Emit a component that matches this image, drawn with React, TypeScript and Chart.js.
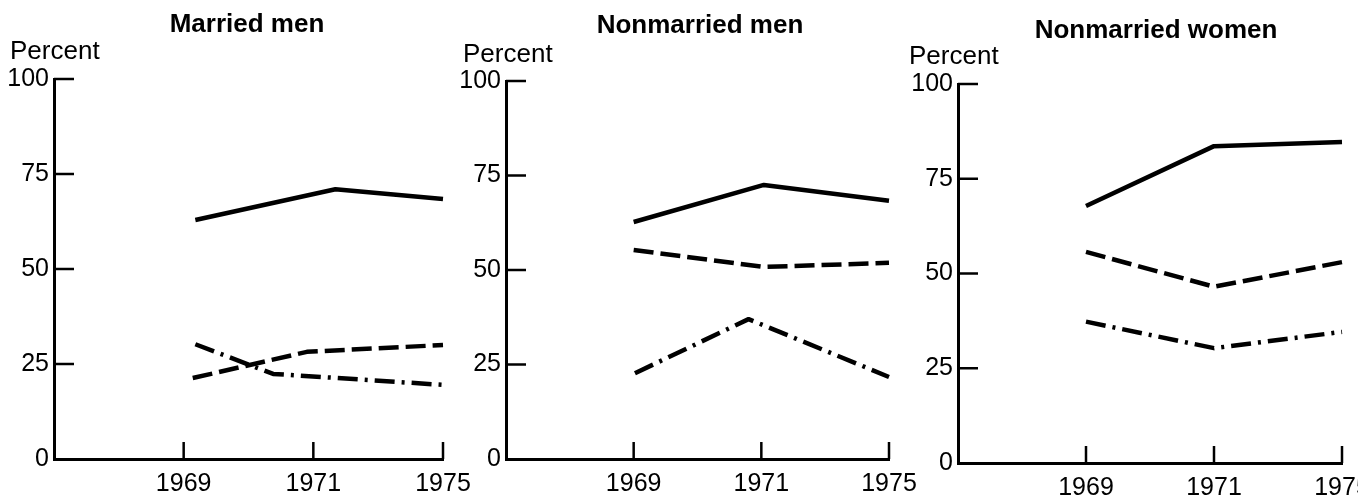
import React, { useEffect, useRef } from 'react';
import { Chart, registerables } from 'chart.js';

Chart.register(...registerables);

// ---------- data ----------
const panelTitles = ['Married men', 'Nonmarried men', 'Nonmarried women'];
const yAxisLabel = 'Percent';
const yTickValues = [0, 25, 50, 75, 100];
const yearLabels = ['1969', '1971', '1975'];
const yearPositions = [1, 2, 3];

// Married men
const marriedSolidX = [1.09, 2.17, 3];
const marriedSolidY = [62.9, 71, 68.4];
const marriedDashX = [1.07, 1.95, 3];
const marriedDashY = [21.3, 28.2, 30];
const marriedDotX = [1.09, 1.69, 3];
const marriedDotY = [30.2, 22.4, 19.5];

// Nonmarried men
const nmMenSolidX = [1, 2.02, 3];
const nmMenSolidY = [62.7, 72.5, 68.3];
const nmMenDashX = [1, 2.02, 3];
const nmMenDashY = [55.3, 50.8, 51.9];
const nmMenDotX = [1.01, 1.9, 3];
const nmMenDotY = [22.7, 37, 21.7];

// Nonmarried women
const nmWomenSolidX = [1, 2, 3];
const nmWomenSolidY = [67.8, 83.6, 84.7];
const nmWomenDashX = [1, 2, 3];
const nmWomenDashY = [55.7, 46.5, 53];
const nmWomenDotX = [1, 2, 3];
const nmWomenDotY = [37.3, 30.3, 34.6];

// ---------- layout / style ----------
const FONT = '"Liberation Sans", Arial, Helvetica, sans-serif';
const INK = '#000';
const EXTRA = 40; // extra canvas room on the right so end labels are not clipped

type PanelLayout = {
  left: number;
  width: number;
  areaLeft: number;
  areaRight: number;
  areaTop: number;
  areaBottom: number;
  titleX: number;
  titleY: number;
  labelX: number;
  labelY: number;
};

const layouts: PanelLayout[] = [
  { left: 0, width: 453, areaLeft: 54, areaRight: 443, areaTop: 79, areaBottom: 459, titleX: 247, titleY: 25, labelX: 10, labelY: 52 },
  { left: 453, width: 452, areaLeft: 53, areaRight: 436, areaTop: 81, areaBottom: 459, titleX: 247, titleY: 26, labelX: 10, labelY: 55 },
  { left: 905, width: 453, areaLeft: 53, areaRight: 437, areaTop: 84, areaBottom: 463, titleX: 251, titleY: 31, labelX: 4, labelY: 57 },
];

const zip = (xs: number[], ys: number[]) => xs.map((x, i) => ({ x, y: ys[i] }));

const panelSeries = [
  [zip(marriedSolidX, marriedSolidY), zip(marriedDashX, marriedDashY), zip(marriedDotX, marriedDotY)],
  [zip(nmMenSolidX, nmMenSolidY), zip(nmMenDashX, nmMenDashY), zip(nmMenDotX, nmMenDotY)],
  [zip(nmWomenSolidX, nmWomenSolidY), zip(nmWomenDashX, nmWomenDashY), zip(nmWomenDotX, nmWomenDotY)],
];

const dashPatterns: number[][] = [[], [20, 7], [20, 7, 3, 7]];

const H = 497;

function Panel({ index }: { index: number }) {
  const ref = useRef<HTMLCanvasElement | null>(null);
  const L = layouts[index];
  const W = L.width + EXTRA;

  useEffect(() => {
    if (!ref.current) return;

    const decor = {
      id: 'decor' + index,
      afterDraw(chart: any) {
        const ctx = chart.ctx;
        const xs = chart.scales.x;
        const ys = chart.scales.y;
        const area = chart.chartArea;
        ctx.save();
        ctx.strokeStyle = INK;
        ctx.lineWidth = 2.5;
        // inward y tick marks
        yTickValues.forEach((v) => {
          if (v === 0) return;
          const py = ys.getPixelForValue(v);
          ctx.beginPath();
          ctx.moveTo(area.left, py);
          ctx.lineTo(area.left + 20, py);
          ctx.stroke();
        });
        // inward x tick marks
        yearPositions.forEach((p) => {
          const px = xs.getPixelForValue(p);
          ctx.beginPath();
          ctx.moveTo(px, area.bottom);
          ctx.lineTo(px, area.bottom - 17);
          ctx.stroke();
        });
        // title
        ctx.fillStyle = INK;
        ctx.textBaseline = 'middle';
        ctx.textAlign = 'center';
        ctx.font = `bold 26px ${FONT}`;
        ctx.fillText(panelTitles[index], L.titleX, L.titleY);
        // y axis label
        ctx.textAlign = 'left';
        ctx.font = `26px ${FONT}`;
        ctx.fillText(yAxisLabel, L.labelX, L.labelY);
        ctx.restore();
      },
    };

    const chart = new Chart(ref.current, {
      type: 'line',
      data: {
        datasets: panelSeries[index].map((pts, i) => ({
          label: ['Solid', 'Dashed', 'Dash-dot'][i],
          data: pts,
          borderColor: INK,
          backgroundColor: INK,
          borderWidth: 4.5,
          borderDash: dashPatterns[i],
          borderCapStyle: 'butt',
          borderJoinStyle: 'round',
          pointRadius: 0,
          fill: false,
          tension: 0,
          clip: false as any,
        })),
      },
      options: {
        animation: false,
        responsive: false,
        maintainAspectRatio: false,
        layout: {
          padding: { left: 0, top: L.areaTop, right: W - L.areaRight, bottom: 0 },
        },
        plugins: {
          legend: { display: false },
          title: { display: false },
          tooltip: { enabled: false },
        },
        scales: {
          x: {
            type: 'linear',
            min: 0,
            max: 3,
            afterBuildTicks: (scale: any) => {
              scale.ticks = yearPositions.map((v) => ({ value: v }));
            },
            afterFit: (scale: any) => {
              scale.height = H - L.areaBottom;
              scale.paddingLeft = 0;
              scale.paddingRight = 0;
            },
            ticks: {
              autoSkip: false,
              maxRotation: 0,
              minRotation: 0,
              padding: 10,
              color: INK,
              font: { family: FONT, size: 25 },
              callback: (v: any) => {
                const i = yearPositions.indexOf(Number(v));
                return i >= 0 ? yearLabels[i] : '';
              },
            },
            grid: { display: true, drawOnChartArea: false, drawTicks: false },
            border: { display: true, color: INK, width: 3 },
          },
          y: {
            type: 'linear',
            min: 0,
            max: 100,
            afterBuildTicks: (scale: any) => {
              scale.ticks = yTickValues.map((v) => ({ value: v }));
            },
            afterFit: (scale: any) => {
              scale.width = L.areaLeft;
              scale.paddingTop = 0;
              scale.paddingBottom = 0;
            },
            ticks: {
              padding: 5,
              color: INK,
              font: { family: FONT, size: 25 },
              callback: (v: any) => String(v),
            },
            grid: { display: true, drawOnChartArea: false, drawTicks: false },
            border: { display: true, color: INK, width: 3 },
          },
        },
      },
      plugins: [decor],
    } as any);

    return () => chart.destroy();
  }, [index]);

  return (
    <canvas
      ref={ref}
      width={W}
      height={H}
      style={{ position: 'absolute', left: L.left, top: 0, width: W, height: H }}
    />
  );
}

export default function App() {
  return (
    <div style={{ position: 'absolute', left: 0, top: 0, width: 1358, height: H, background: '#fff', overflow: 'hidden' }}>
      {layouts.map((_, i) => (
        <Panel key={i} index={i} />
      ))}
    </div>
  );
}
